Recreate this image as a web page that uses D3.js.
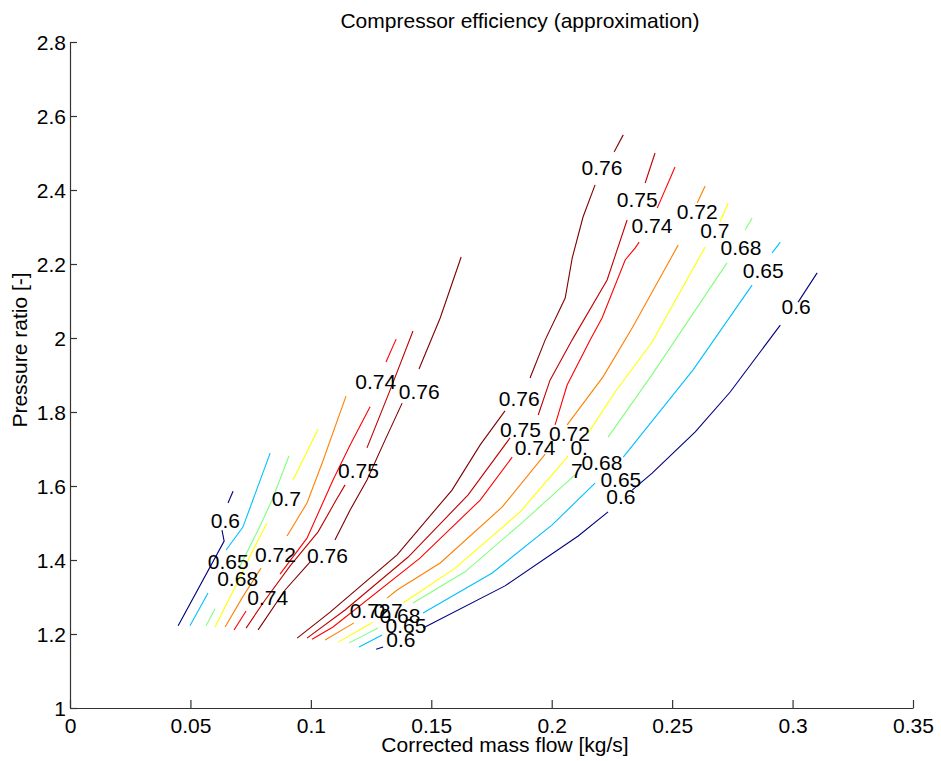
<!DOCTYPE html>
<html>
<head>
<meta charset="utf-8">
<script src="https://cdn.jsdelivr.net/npm/d3@7"></script>
<style>
  body { margin: 0; background: #fff; }
  text { font-family: "Liberation Sans", Arial, Helvetica, sans-serif; }
</style>
</head>
<body>
<div id="chart"></div>
<script>
// ---- data ----
var xTicks = [0, 0.05, 0.1, 0.15, 0.2, 0.25, 0.3, 0.35];
var xTickLabels = ["0", "0.05", "0.1", "0.15", "0.2", "0.25", "0.3", "0.35"];
var yTicks = [1, 1.2, 1.4, 1.6, 1.8, 2, 2.2, 2.4, 2.6, 2.8];
var yTickLabels = ["1", "1.2", "1.4", "1.6", "1.8", "2", "2.2", "2.4", "2.6", "2.8"];

var levels = [0.6, 0.65, 0.68, 0.7, 0.72, 0.74, 0.75, 0.76];

// contour pieces (mass flow, pressure ratio); gaps are where labels sit
var eff060 = [
  [[0.0449,1.222],[0.064,1.451],[0.0631,1.481]],
  [[0.0656,1.554],[0.0677,1.586]],
  [[0.1271,1.159],[0.13,1.165]],
  [[0.1466,1.216],[0.1806,1.33],[0.211,1.465],[0.2234,1.53]],
  [[0.2334,1.589],[0.2417,1.635],[0.2596,1.746],[0.2741,1.854],[0.2949,2.035]],
  [[0.3023,2.097],[0.3102,2.176]]
];
var eff065 = [
  [[0.0498,1.222],[0.0573,1.311]],
  [[0.0648,1.427],[0.0718,1.489],[0.0831,1.689]],
  [[0.12,1.165],[0.1296,1.197]],
  [[0.1466,1.257],[0.1753,1.365],[0.2002,1.495],[0.218,1.608]],
  [[0.2297,1.678],[0.2587,1.914],[0.2832,2.143]],
  [[0.2915,2.23],[0.2949,2.259]]
];
var eff068 = [
  [[0.0565,1.222],[0.0602,1.268]],
  [[0.0706,1.384],[0.0781,1.481],[0.0839,1.562],[0.0909,1.681]],
  [[0.1159,1.176],[0.1279,1.216]],
  [[0.1424,1.284],[0.164,1.368],[0.1881,1.503],[0.2105,1.635]],
  [[0.2234,1.732],[0.2421,1.905],[0.2728,2.203]],
  [[0.2803,2.292],[0.2832,2.324]]
];
var eff070 = [
  [[0.0602,1.219],[0.0694,1.338],[0.076,1.427],[0.0818,1.5]],
  [[0.0926,1.616],[0.103,1.754]],
  [[0.1113,1.178],[0.1258,1.232]],
  [[0.1383,1.284],[0.1599,1.378],[0.1869,1.53],[0.2068,1.681]],
  [[0.2151,1.743],[0.2263,1.854],[0.2417,1.989],[0.2637,2.246]],
  [[0.2699,2.314],[0.2733,2.365]]
];
var eff072 = [
  [[0.0644,1.219],[0.0714,1.297],[0.0793,1.378]],
  [[0.0901,1.465],[0.0984,1.554],[0.1047,1.662],[0.1146,1.843]],
  [[0.1059,1.184],[0.1179,1.23]],
  [[0.1316,1.297],[0.1358,1.319],[0.1537,1.392],[0.1794,1.543],[0.1973,1.686]],
  [[0.2064,1.765],[0.2213,1.895],[0.2334,2.027],[0.2525,2.251]],
  [[0.2604,2.365],[0.2637,2.411]]
];
var eff074 = [
  [[0.0681,1.211],[0.0731,1.262]],
  [[0.0872,1.362],[0.0984,1.459],[0.1092,1.616],[0.1163,1.711],[0.1246,1.814]],
  [[0.1312,1.935],[0.1354,1.997]],
  [[0.1005,1.186],[0.1092,1.219],[0.1453,1.405],[0.1703,1.562],[0.1836,1.678]],
  [[0.2014,1.765],[0.2064,1.873],[0.216,1.995],[0.2209,2.054],[0.2305,2.211],[0.2346,2.243],[0.2363,2.259]],
  [[0.2438,2.351],[0.2512,2.462]]
];
var eff075 = [
  [[0.0731,1.216],[0.081,1.292],[0.0914,1.384],[0.103,1.476],[0.1105,1.562],[0.1142,1.603]],
  [[0.1233,1.703],[0.1329,1.859],[0.1424,2.019]],
  [[0.0984,1.189],[0.1142,1.265],[0.1404,1.408],[0.1653,1.576],[0.1827,1.73]],
  [[0.1944,1.792],[0.1993,1.886],[0.2085,1.995],[0.223,2.157],[0.2313,2.319]],
  [[0.2388,2.419],[0.2429,2.5]]
];
var eff076 = [
  [[0.0781,1.211],[0.0893,1.319],[0.0997,1.395]],
  [[0.11,1.454],[0.1163,1.535],[0.1233,1.616],[0.1308,1.724],[0.1379,1.824]],
  [[0.1449,1.916],[0.1537,2.054],[0.1624,2.219]],
  [[0.0943,1.189],[0.108,1.259],[0.1358,1.414],[0.1586,1.589],[0.1703,1.711],[0.1806,1.803]],
  [[0.191,1.892],[0.1973,1.995],[0.2056,2.108],[0.2085,2.216],[0.213,2.327],[0.218,2.414]],
  [[0.2259,2.503],[0.2297,2.549]]
];

// contour labels: mass flow, pressure ratio, text
var contourLabels = [
  [0.0645,1.508,"0.6"], [0.0657,1.395,"0.65"], [0.0696,1.349,"0.68"],
  [0.0898,1.566,"0.7"], [0.0853,1.414,"0.72"], [0.0821,1.299,"0.74"],
  [0.1198,1.642,"0.75"], [0.1069,1.413,"0.76"], [0.1269,1.882,"0.74"],
  [0.145,1.855,"0.76"],
  [0.1246,1.265,"0.72"], [0.1321,1.265,"0.7"], [0.137,1.249,"0.68"],
  [0.1395,1.222,"0.65"], [0.1374,1.186,"0.6"],
  [0.1865,1.838,"0.76"], [0.187,1.753,"0.75"], [0.1931,1.705,"0.74"],
  [0.2074,1.743,"0.72"], [0.2114,1.705,"0."], [0.2104,1.641,"7"],
  [0.2209,1.665,"0.68"], [0.2287,1.619,"0.65"], [0.2287,1.571,"0.6"],
  [0.2209,2.461,"0.76"], [0.2355,2.374,"0.75"], [0.2416,2.303,"0.74"],
  [0.2604,2.341,"0.72"], [0.2677,2.291,"0.7"], [0.2786,2.244,"0.68"],
  [0.2878,2.182,"0.65"], [0.3015,2.086,"0.6"]
];

// ---- chart ----
var svgWidth = 941;
var svgHeight = 761;
var margin = {top: 42, right: 28, bottom: 53, left: 70};
var width = svgWidth - margin.left - margin.right;
var height = svgHeight - margin.top - margin.bottom;

var svg = d3.select("#chart")
    .append("svg")
    .attr("width", svgWidth)
    .attr("height", svgHeight);

var chartGroup = svg.append("g")
    .attr("transform", `translate(${margin.left}, ${margin.top})`);

var xScale = d3.scaleLinear().domain([0, 0.35]).range([0, width]);
var yScale = d3.scaleLinear().domain([1, 2.8]).range([height, 0]);

// MATLAB jet colormap over the level range
var tScale = d3.scaleLinear().domain([levels[0], levels[levels.length - 1]]).range([0, 1]);
function jet(v) {
    var t = tScale(v);
    var c = k => Math.max(0, Math.min(1, k)) * 255;
    return d3.rgb(c(1.5 - Math.abs(4 * t - 3)), c(1.5 - Math.abs(4 * t - 2)), c(1.5 - Math.abs(4 * t - 1))).formatHex();
}

var contourSets = [eff060, eff065, eff068, eff070, eff072, eff074, eff075, eff076]
    .map((segs, i) => ({level: levels[i], segs: segs}));

var line = d3.line()
    .x(d => xScale(d[0]))
    .y(d => yScale(d[1]));

contourSets.forEach(function(set) {
    chartGroup.append("g")
        .selectAll("path")
        .data(set.segs)
        .enter()
        .append("path")
        .attr("d", line)
        .attr("fill", "none")
        .attr("stroke", jet(set.level))
        .attr("stroke-width", 1.1);
});

chartGroup.append("g")
    .selectAll("text")
    .data(contourLabels)
    .enter()
    .append("text")
    .attr("x", d => xScale(d[0]))
    .attr("y", d => yScale(d[1]))
    .attr("dy", "0.36em")
    .style("text-anchor", "middle")
    .style("font-size", "21px")
    .style("fill", "#000")
    .text(d => d[2]);

// axes (left and bottom only, ticks pointing in)
var bottomAxis = d3.axisBottom(xScale)
    .tickValues(xTicks)
    .tickFormat((d, i) => xTickLabels[i])
    .tickSizeInner(-8)
    .tickSizeOuter(0)
    .tickPadding(10);

var leftAxis = d3.axisLeft(yScale)
    .tickValues(yTicks)
    .tickFormat((d, i) => yTickLabels[i])
    .tickSizeInner(-7)
    .tickSizeOuter(0)
    .tickPadding(4);

var xg = chartGroup.append("g")
    .attr("transform", `translate(0, ${height})`)
    .call(bottomAxis);

var yg = chartGroup.append("g")
    .call(leftAxis);

[xg, yg].forEach(function(g) {
    g.selectAll("path, line").attr("stroke", "#333").attr("stroke-width", 1.2);
    g.selectAll("text").style("font-size", "21px").style("fill", "#000")
        .style("font-family", '"Liberation Sans", Arial, sans-serif');
});
yg.selectAll("text").attr("dy", "0.38em");

// titles
svg.append("text")
    .attr("x", 520)
    .attr("y", 28)
    .style("text-anchor", "middle")
    .style("font-size", "21px")
    .text("Compressor efficiency (approximation)");

svg.append("text")
    .attr("x", 505)
    .attr("y", 752)
    .style("text-anchor", "middle")
    .style("font-size", "21px")
    .text("Corrected mass flow [kg/s]");

svg.append("text")
    .attr("transform", "translate(27, 350) rotate(-90)")
    .style("text-anchor", "middle")
    .style("font-size", "21px")
    .text("Pressure ratio [-]");
</script>
</body>
</html>
